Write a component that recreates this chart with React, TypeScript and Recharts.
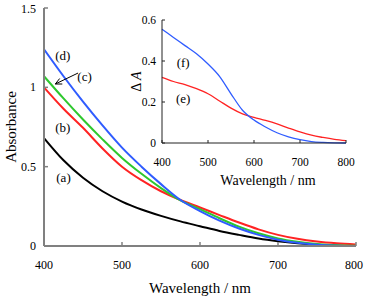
import React from 'react';
import { LineChart, Line, XAxis, YAxis, ReferenceDot, ReferenceLine, Label } from 'recharts';

const wavelengths = [400, 425, 450, 475, 500, 525, 550, 575, 600, 625, 650, 675, 700, 725, 750, 775, 800];
const absA = [0.68, 0.54, 0.43, 0.345, 0.28, 0.23, 0.19, 0.155, 0.125, 0.095, 0.07, 0.047, 0.03, 0.017, 0.008, 0.003, 0.001];
const absB = [1.0, 0.865, 0.745, 0.615, 0.5, 0.415, 0.345, 0.29, 0.243, 0.195, 0.148, 0.105, 0.07, 0.045, 0.028, 0.017, 0.01];
const absC = [1.07, 0.93, 0.797, 0.672, 0.555, 0.455, 0.365, 0.287, 0.232, 0.175, 0.122, 0.08, 0.048, 0.027, 0.013, 0.005, 0.002];
const absD = [1.24, 1.07, 0.91, 0.76, 0.62, 0.5, 0.39, 0.29, 0.22, 0.16, 0.11, 0.07, 0.04, 0.02, 0.008, 0.002, 0];
const deltaE = [0.32, 0.3, 0.285, 0.265, 0.24, 0.205, 0.17, 0.142, 0.125, 0.11, 0.093, 0.073, 0.054, 0.038, 0.027, 0.018, 0.012];
const deltaF = [0.555, 0.515, 0.475, 0.435, 0.385, 0.325, 0.24, 0.16, 0.112, 0.078, 0.05, 0.03, 0.016, 0.007, 0.003, 0.001, 0];

const mainXTicks = [400, 500, 600, 700, 800];
const mainYTicks = [0, 0.5, 1, 1.5];
const insetXTicks = [400, 500, 600, 700, 800];
const insetYTicks = [0, 0.2, 0.4, 0.6];

const mainLabels = [
  { text: '(d)', x: 424, y: 1.2 },
  { text: '(c)', x: 452, y: 1.07 },
  { text: '(b)', x: 424, y: 0.75 },
  { text: '(a)', x: 425, y: 0.43 },
];
const insetLabels = [
  { text: '(f)', x: 446, y: 0.395 },
  { text: '(e)', x: 446, y: 0.215 },
];
const arrowFrom = { x: 443.6, y: 1.09 };
const arrowTo = { x: 414.5, y: 1.021 };

const mainData = wavelengths.map((w, i) => ({ w, a: absA[i], b: absB[i], c: absC[i], d: absD[i] }));
const insetData = wavelengths.map((w, i) => ({ w, e: deltaE[i], f: deltaF[i] }));

const FONT = "'Liberation Serif', 'Times New Roman', serif";
const BLUE = '#2f5cff';
const RED = '#ff2323';
const GREEN = '#2ec82e';
const FRAME = '#808080';

const textShape = (t: string, size: number) => (p: any) => (
  <text x={p.cx} y={p.cy} textAnchor="middle" dominantBaseline="central" fontSize={size} fontFamily={FONT} fill="#000">
    {t}
  </text>
);

const makeXTick = (size: number) => (p: any) => (
  <text x={p.x} y={p.y} textAnchor="middle" dominantBaseline="central" fontSize={size} fontFamily={FONT} fill="#000">
    {String(p.payload.value)}
  </text>
);

const makeYTick = (size: number) => (p: any) => (
  <text x={p.x} y={p.y} textAnchor="end" dominantBaseline="central" fontSize={size} fontFamily={FONT} fill="#000">
    {String(p.payload.value)}
  </text>
);

const arrowShape = (p: any) => {
  const { x1, y1, x2, y2 } = p;
  const ang = Math.atan2(y2 - y1, x2 - x1);
  const len = 7;
  const spread = 0.45;
  const ax1 = x2 - len * Math.cos(ang - spread);
  const ay1 = y2 - len * Math.sin(ang - spread);
  const ax2 = x2 - len * Math.cos(ang + spread);
  const ay2 = y2 - len * Math.sin(ang + spread);
  return (
    <g stroke="#000" strokeWidth={1} fill="none">
      <line x1={x1} y1={y1} x2={x2} y2={y2} />
      <polyline points={`${ax1},${ay1} ${x2},${y2} ${ax2},${ay2}`} />
    </g>
  );
};

const xTitle = (text: string, size: number, fromBottom: number, dx: number) => (props: any) => {
  const vb = props.viewBox || {};
  const cx = vb.x + vb.width / 2 + dx;
  const cy = vb.y + vb.height - fromBottom;
  return (
    <text x={cx} y={cy} textAnchor="middle" dominantBaseline="central" fontSize={size} fontFamily={FONT} fill="#000">
      {text}
    </text>
  );
};

const AbsorbanceLabel = (props: any) => {
  const vb = props.viewBox || {};
  const cx = vb.x + 11;
  const cy = vb.y + vb.height / 2;
  return (
    <text x={cx} y={cy} transform={`rotate(-90, ${cx}, ${cy})`} textAnchor="middle" dominantBaseline="central" fontSize={15} fontFamily={FONT} fill="#000">
      Absorbance
    </text>
  );
};

const DeltaALabel = (props: any) => {
  const vb = props.viewBox || {};
  const cx = vb.x + 16;
  const cy = vb.y + vb.height / 2;
  return (
    <text x={cx} y={cy} transform={`rotate(-90, ${cx}, ${cy})`} textAnchor="middle" dominantBaseline="central" fontSize={14} fontFamily={FONT} fill="#000">
      <tspan>Δ </tspan>
      <tspan fontStyle="italic">A</tspan>
    </text>
  );
};

export default function App() {
  return (
    <div style={{ position: 'absolute', left: 0, top: 0, width: 366, height: 297, background: '#fff', fontFamily: FONT }}>
      <div style={{ position: 'absolute', left: 0, top: 0 }}>
        <LineChart width={366} height={297} data={mainData} margin={{ top: 8, right: 10, bottom: 0, left: 0 }}>
          <XAxis
            dataKey="w"
            type="number"
            domain={[400, 800]}
            ticks={mainXTicks}
            height={51}
            tickSize={-4}
            tickMargin={23}
            tick={makeXTick(12)}
            axisLine={{ stroke: FRAME, strokeWidth: 2 }}
            tickLine={{ stroke: FRAME, strokeWidth: 1.5 }}
          >
            <Label content={xTitle('Wavelength / nm', 15, 9, 0)} />
          </XAxis>
          <XAxis xAxisId="top" orientation="top" type="number" domain={[400, 800]} height={0} tick={false} tickLine={false} axisLine={{ stroke: FRAME, strokeWidth: 2 }} />
          <YAxis
            type="number"
            domain={[0, 1.5]}
            ticks={mainYTicks}
            width={44}
            tickSize={-4}
            tickMargin={12}
            tick={makeYTick(12)}
            axisLine={{ stroke: FRAME, strokeWidth: 2 }}
            tickLine={{ stroke: FRAME, strokeWidth: 1.5 }}
          >
            <Label content={AbsorbanceLabel} />
          </YAxis>
          <YAxis yAxisId="right" orientation="right" type="number" domain={[0, 1.5]} width={0} tick={false} tickLine={false} axisLine={{ stroke: FRAME, strokeWidth: 2 }} />
          <Line dataKey="a" type="monotone" stroke="#000" strokeWidth={2} dot={false} isAnimationActive={false} />
          <Line dataKey="b" type="monotone" stroke={RED} strokeWidth={2} dot={false} isAnimationActive={false} />
          <Line dataKey="c" type="monotone" stroke={GREEN} strokeWidth={2} dot={false} isAnimationActive={false} />
          <Line dataKey="d" type="monotone" stroke={BLUE} strokeWidth={2} dot={false} isAnimationActive={false} />
          {mainLabels.map((l) => (
            <ReferenceDot key={l.text} x={l.x} y={l.y} r={0} shape={textShape(l.text, 13)} />
          ))}
          <ReferenceLine segment={[arrowFrom, arrowTo]} shape={arrowShape} />
        </LineChart>
      </div>
      <div style={{ position: 'absolute', left: 0, top: 0 }}>
        <LineChart width={366} height={297} data={insetData} margin={{ top: 20, right: 20, bottom: 107, left: 120 }}>
          <XAxis
            dataKey="w"
            type="number"
            domain={[400, 800]}
            ticks={insetXTicks}
            height={47}
            tickSize={-3}
            tickMargin={22}
            tick={makeXTick(11.5)}
            axisLine={{ stroke: '#222', strokeWidth: 1 }}
            tickLine={{ stroke: '#222', strokeWidth: 1 }}
          >
            <Label content={xTitle('Wavelength / nm', 14, 10, 14)} />
          </XAxis>
          <XAxis xAxisId="top" orientation="top" type="number" domain={[400, 800]} height={0} tick={false} tickLine={false} axisLine={{ stroke: '#222', strokeWidth: 1 }} />
          <YAxis
            type="number"
            domain={[0, 0.6]}
            ticks={insetYTicks}
            width={42}
            tickSize={-3}
            tickMargin={9}
            tick={makeYTick(11.5)}
            axisLine={{ stroke: '#222', strokeWidth: 1 }}
            tickLine={{ stroke: '#222', strokeWidth: 1 }}
          >
            <Label content={DeltaALabel} />
          </YAxis>
          <YAxis yAxisId="right" orientation="right" type="number" domain={[0, 0.6]} width={0} tick={false} tickLine={false} axisLine={{ stroke: '#222', strokeWidth: 1 }} />
          <Line dataKey="e" type="monotone" stroke={RED} strokeWidth={1.3} dot={false} isAnimationActive={false} />
          <Line dataKey="f" type="monotone" stroke={BLUE} strokeWidth={1.3} dot={false} isAnimationActive={false} />
          {insetLabels.map((l) => (
            <ReferenceDot key={l.text} x={l.x} y={l.y} r={0} shape={textShape(l.text, 13)} />
          ))}
        </LineChart>
      </div>
    </div>
  );
}
